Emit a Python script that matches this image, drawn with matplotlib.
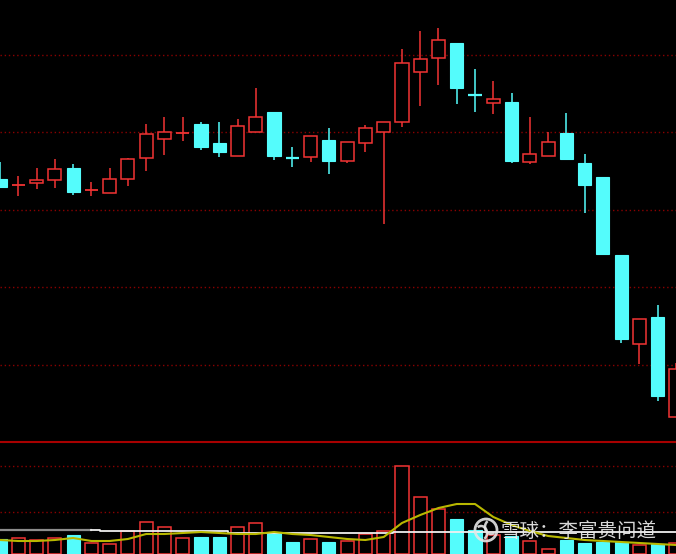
import numpy as np
import matplotlib
matplotlib.use("Agg")
import matplotlib.pyplot as plt
from matplotlib.lines import Line2D
from matplotlib.patches import Circle, Arc

# -----------------------------
# Data (price in arbitrary units, volume in arbitrary units)
# -----------------------------
opens = [26.3, 25.7, 25.9, 26.2, 27.4, 25.2, 24.9, 26.3, 28.4, 30.3,
         30.9, 31.8, 29.9, 28.6, 31.0, 33.0, 28.4, 28.5, 30.2, 28.1,
         29.9, 31.0, 32.0, 37.0, 38.4, 39.9, 34.7, 33.9, 34.0, 28.0,
         28.6, 30.9, 27.9, 26.5, 18.7, 9.8, 12.5, 2.5]
highs = [28.0, 26.6, 27.4, 28.3, 27.8, 26.0, 27.4, 28.4, 31.8, 32.5,
         32.5, 32.0, 32.0, 32.3, 35.4, 33.0, 29.5, 30.6, 31.4, 30.0,
         31.7, 32.0, 39.3, 41.1, 41.4, 39.9, 37.3, 36.1, 34.9, 32.5,
         31.0, 32.9, 28.8, 26.5, 18.7, 12.3, 13.7, 7.9]
lows = [25.5, 24.6, 25.3, 25.4, 24.7, 24.6, 24.9, 25.6, 27.1, 28.7,
        30.1, 29.2, 28.5, 28.6, 31.0, 28.2, 27.5, 28.0, 26.8, 27.9,
        29.0, 21.8, 31.5, 33.6, 35.7, 33.8, 33.0, 32.8, 27.9, 27.8,
        28.6, 28.2, 22.9, 18.8, 9.9, 7.8, 4.1, 2.5]
closes = [25.5, 25.7, 26.2, 27.3, 25.0, 25.2, 26.3, 28.3, 30.8, 31.0,
          30.9, 29.5, 29.0, 31.6, 32.5, 28.6, 28.4, 30.6, 28.1, 30.0,
          31.4, 32.0, 37.9, 38.3, 40.2, 35.4, 34.7, 34.3, 28.1, 28.8,
          30.0, 28.3, 25.7, 18.8, 10.3, 12.3, 4.6, 7.3]
# doji bars drawn in the "down" colour
doji_down = [16, 26]

volumes = [15, 16, 14, 16, 19, 11, 10, 23, 32, 27,
           16, 17, 17, 27, 31, 22, 12, 15, 12, 13,
           20, 23, 88, 57, 45, 35, 24, 19, 18, 13,
           5, 14, 11, 12, 12, 9, 10, 11]
vol_ma_short = [14, 13, 13, 14, 16, 13, 13, 15, 20, 20,
                21, 22, 21, 20, 20, 22, 20, 19, 17, 15,
                14, 17, 31, 39, 46, 50, 50, 37, 29, 23,
                18, 16, 14, 13, 12, 11, 10, 9]
vol_ma_long = [24, 24, 24, 24, 24, 24, 23, 23, 23, 23,
               23, 23, 23, 21, 21, 21, 21, 21, 21, 21,
               21, 21, 22, 22, 22, 22, 22, 22, 22, 22,
               22, 22, 22, 22, 22, 22, 22, 22]

# -----------------------------
# Style
# -----------------------------
BG = "black"
UP = "#f23333"
DOWN = "#54fcfc"
GRID = "#8a0000"
BODY_W = 0.72

W, H = 676, 554
fig = plt.figure(figsize=(W / 100, H / 100), dpi=100, facecolor=BG)
split = (H - 442) / H
ax = fig.add_axes([0, split, 1, 1 - split], facecolor=BG)
axv = fig.add_axes([0, 0, 1, split], facecolor=BG)

x = np.arange(len(opens))
o = np.array(opens)
h = np.array(highs)
l = np.array(lows)
c = np.array(closes)
up = c >= o
up[doji_down] = False

# price grid (dotted)
for gy in [7.75, 15.5, 23.25, 31.0, 38.75]:
    ax.axhline(gy, color=GRID, lw=1.0, ls=(0, (1, 2)), zorder=0)

for i in x:
    top, bot = max(o[i], c[i]), min(o[i], c[i])
    if up[i]:
        ax.vlines(i, top, h[i], color=UP, lw=1.1, zorder=2)
        ax.vlines(i, l[i], bot, color=UP, lw=1.1, zorder=2)
        if top - bot > 0:
            ax.bar(i, top - bot, bottom=bot, width=BODY_W, facecolor=BG,
                   edgecolor=UP, lw=1.1, zorder=3)
        else:
            ax.hlines(top, i - BODY_W / 2, i + BODY_W / 2, color=UP, lw=1.3, zorder=3)
    else:
        ax.vlines(i, l[i], h[i], color=DOWN, lw=1.1, zorder=2)
        if top - bot > 0:
            ax.bar(i, top - bot, bottom=bot, width=BODY_W, facecolor=DOWN,
                   edgecolor=DOWN, lw=0.8, zorder=3)
        else:
            ax.hlines(top, i - BODY_W / 2, i + BODY_W / 2, color=DOWN, lw=1.6, zorder=3)

ax.set_xlim(0, 37)
ax.set_ylim(0, 44.2)
ax.axis("off")

# volume panel
for gy in [42, 88]:
    axv.axhline(gy, color=GRID, lw=1.0, ls=(0, (1, 2)), zorder=0)

vol = np.array(volumes)
axv.bar(x[up], vol[up], width=BODY_W, facecolor=BG, edgecolor=UP, lw=1.1, zorder=2)
axv.bar(x[~up], vol[~up], width=BODY_W, facecolor=DOWN, edgecolor=DOWN, lw=0.8, zorder=2)

axv.plot(x[:6], vol_ma_long[:6], color="#8c8c8c", lw=1.6, drawstyle="steps-post", zorder=4)
axv.plot(x[5:], vol_ma_long[5:], color="#f0f0f0", lw=1.3, drawstyle="steps-mid", zorder=4)
axv.plot(x, vol_ma_short, color="#b8b800", lw=1.5, zorder=5)

axv.set_xlim(0, 37)
axv.set_ylim(0, 112)
axv.axis("off")

# separator line between panels
fig.add_artist(Line2D([0, 1], [split, split], transform=fig.transFigure,
                      color="#a80000", lw=1.5))

# watermark: logo + text
fig.add_artist(Circle((486, H - 530), 11, transform=None, fill=False,
                      edgecolor="#e6e6e6", lw=2.0, alpha=0.9))
fig.add_artist(Arc((481, H - 533), 12, 14, theta1=300, theta2=120, transform=None,
                   edgecolor="#e6e6e6", lw=1.8, alpha=0.9))
fig.add_artist(Arc((491, H - 527), 12, 14, theta1=120, theta2=300, transform=None,
                   edgecolor="#e6e6e6", lw=1.8, alpha=0.9))
fig.text(500 / W, 1 - 531 / H, "雪球：李富贵问道", color="#ececec", alpha=0.92,
         fontsize=14, va="center", ha="left",
         family=["Noto Sans CJK SC", "DejaVu Sans"])

fig.savefig("out.png", dpi=100, facecolor=BG)
